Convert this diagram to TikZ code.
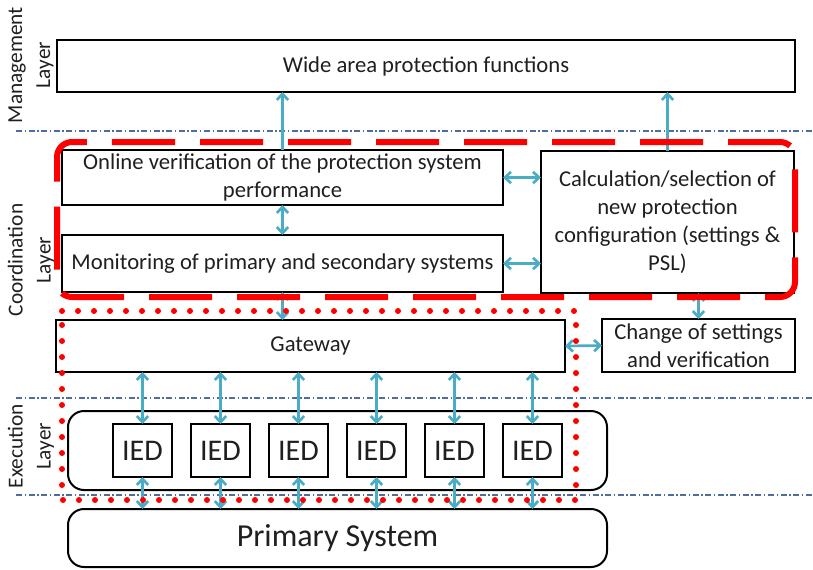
\documentclass[tikz,border=0pt]{standalone}
\usepackage{fontspec}
\setmainfont{Carlito}
\usetikzlibrary{arrows.meta}

\definecolor{linkblue}{HTML}{4BACC6}
\definecolor{layerblue}{HTML}{4F6D9E}
\definecolor{groupred}{HTML}{FF0000}

\begin{document}
\begin{tikzpicture}[x=0.75pt, y=-0.75pt,
  box/.style={draw=black, line width=1.5pt, inner sep=0pt, outer sep=0pt, align=center,
    text=black!88, font=\fontsize{17}{20.9}\selectfont},
  roundbox/.style={box, rounded corners=12pt},
  iedbox/.style={box, minimum width=44.25pt, minimum height=39.75pt, font=\fontsize{22.5}{26}\selectfont},
  layerlabel/.style={rotate=90, align=center, inner sep=0pt, text=black!88, font=\fontsize{16}{21}\selectfont},
  layerline/.style={layerblue, line width=1.1pt, dash pattern=on 4.5pt off 1.9pt on 1.1pt off 1.9pt},
  link/.style={linkblue, line width=2pt, {Straight Barb[length=4.5pt,width=8.5pt]}-{Straight Barb[length=4.5pt,width=8.5pt]}},
  uplink/.style={linkblue, line width=2pt, -{Straight Barb[length=4.5pt,width=8.5pt]}},
  groupdash/.style={groupred, line width=4.5pt, dash pattern=on 47.25pt off 18.75pt, rounded corners=11.25pt},
  groupdot/.style={groupred, line width=4.5pt, line cap=round, dash pattern=on 0pt off 12pt}]

\useasboundingbox (0,0) rectangle (813,569);

% Layer separators
\draw[layerline] (16,131) -- (813,131);
\draw[layerline] (16,398) -- (813,398);
\draw[layerline] (16,495) -- (813,495);

% Layer labels
\node[layerlabel] (mgmtlabel) at (31,65) {Management\\Layer};
\node[layerlabel] (coordlabel) at (31,260) {Coordination\\Layer};
\node[layerlabel] (execlabel) at (31,446) {Execution\\Layer};

% Management layer
\node[box, minimum width=553.5pt, minimum height=39pt] (wide) at (426,66) {Wide area protection functions};

% Coordination layer
\node[box, minimum width=330.75pt, minimum height=41.25pt] (online) at (282.5,177.5)
  {Online verification of the protection system\\performance};
\node[box, minimum width=330.75pt, minimum height=42.75pt] (monitor) at (282.5,263.5)
  {Monitoring of primary and secondary systems};
\node[box, minimum width=189.75pt, minimum height=106.5pt] (calc) at (667.5,222)
  {Calculation/selection of\\new protection\\configuration (settings \&\\PSL)};
\node[box, minimum width=381.75pt, minimum height=39pt] (gateway) at (310.5,346) {Gateway};
\node[box, minimum width=144.75pt, minimum height=39.75pt] (change) at (698.5,345.5)
  {Change of settings\\and verification};

% Execution layer
\node[roundbox, minimum width=404.25pt, minimum height=59.25pt] (exec) at (337.5,450.5) {};
\foreach \i in {1,...,6} {
  \node[iedbox] (ied\i) at ({142.5+78*(\i-1)},450.5) {IED};
}

% Primary system
\node[roundbox, minimum width=404.25pt, minimum height=43.5pt, font=\fontsize{24}{28}\selectfont] (primary) at (337.5,538) {Primary System};

% Links between functions
\draw[uplink] (online.north) -- (online.north |- wide.south);
\draw[uplink] (calc.north) -- (calc.north |- wide.south);
\draw[link] (online.south) -- (monitor.north);
\draw[link] (monitor.south) -- (monitor.south |- gateway.north);
\draw[link] (online.east) -- (online.east -| calc.west);
\draw[link] (monitor.east) -- (monitor.east -| calc.west);
\draw[link] (change.north) -- (change.north |- calc.south);
\draw[link] (gateway.east) -- (change.west);

% Gateway to IEDs to primary system
\foreach \i in {1,...,6} {
  \draw[link] (ied\i.north |- gateway.south) -- (ied\i.north);
  \draw[link] (ied\i.south) -- (ied\i.south |- primary.north);
}

% Grouping outlines
\draw[groupdash] (97,142) -- (795,142) -- (795,297) -- (57,297) -- (57,142) -- cycle;
\draw[groupdot] (62,311) -- (576,311) -- (576,500) -- (62,500) -- cycle;

\end{tikzpicture}
\end{document}
